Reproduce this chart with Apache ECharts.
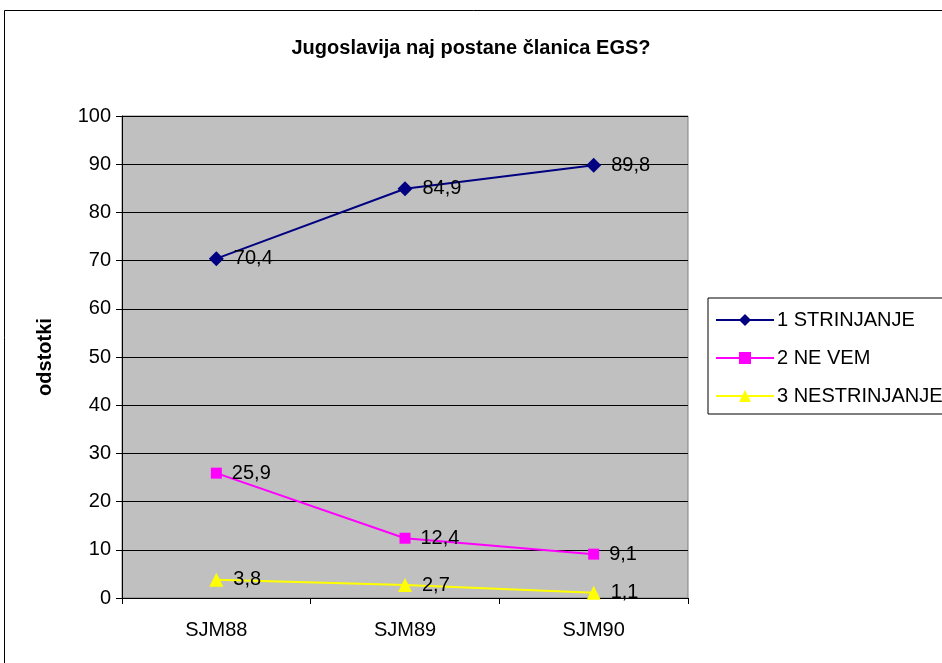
<!DOCTYPE html>
<html>
<head>
<meta charset="utf-8">
<script src="https://cdn.jsdelivr.net/npm/echarts@6/dist/echarts.min.js"></script>
<style>
  html, body { margin: 0; padding: 0; background: #fff; }
  #chart { width: 942px; height: 663px; }
</style>
</head>
<body>
<div id="chart"></div>
<script>
const categories = ['SJM88', 'SJM89', 'SJM90'];
const strinjanje = [70.4, 84.9, 89.8];
const neVem = [25.9, 12.4, 9.1];
const nestrinjanje = [3.8, 2.7, 1.1];
const seriesNames = ['1 STRINJANJE', '2 NE VEM', '3 NESTRINJANJE'];

const font = 'Liberation Sans, Arial, sans-serif';
const fs = 20;

// vrednosti z vejico kot v izvirniku
const fmt = p => String(p.value).replace('.', ',');

function makeSeries(name, data, color, symbol, size) {
  return {
    name: name,
    type: 'line',
    data: data,
    symbol: symbol,
    symbolSize: size,
    lineStyle: { color: color, width: 2 },
    itemStyle: { color: color },
    label: {
      show: true,
      position: 'right',
      distance: 10,
      color: '#000',
      fontFamily: font,
      fontSize: fs,
      formatter: fmt
    },
    emphasis: { disabled: true }
  };
}

const chart = echarts.init(document.getElementById('chart'));
chart.setOption({
  animation: false,
  backgroundColor: '#fff',
  textStyle: { fontFamily: font },
  title: {
    text: 'Jugoslavija naj postane članica EGS?',
    left: 'center',
    top: 33,
    textStyle: { fontFamily: font, fontSize: fs, fontWeight: 'bold', color: '#000' }
  },
  graphic: [{
    type: 'rect',
    shape: { x: 4.5, y: 10.5, width: 945, height: 670 },
    style: { fill: 'none', stroke: '#000', lineWidth: 1 },
    silent: true
  }],
  legend: {
    orient: 'vertical',
    left: 708,
    top: 298,
    padding: [12, 10, 8, 7],
    itemGap: 18,
    itemWidth: 58,
    itemHeight: 15,
    borderColor: '#000',
    borderWidth: 1,
    backgroundColor: '#fff',
    textStyle: { fontFamily: font, fontSize: fs, color: '#000', padding: [0, 0, 0, -2] },
    data: seriesNames
  },
  grid: {
    left: 122,
    top: 116,
    width: 566,
    height: 482,
    show: true,
    backgroundColor: '#c0c0c0',
    borderColor: '#808080',
    borderWidth: 1
  },
  xAxis: {
    type: 'category',
    data: categories,
    boundaryGap: true,
    axisLine: { lineStyle: { color: '#000', width: 1 } },
    axisTick: { show: true, length: 6, lineStyle: { color: '#000' } },
    axisLabel: { color: '#000', fontSize: fs, fontFamily: font, margin: 22 }
  },
  yAxis: {
    type: 'value',
    min: 0,
    max: 100,
    interval: 10,
    name: 'odstotki',
    nameLocation: 'middle',
    nameGap: 67,
    nameTextStyle: { fontFamily: font, fontSize: fs, fontWeight: 'bold', color: '#000' },
    axisLine: { show: true, lineStyle: { color: '#000', width: 1 } },
    axisTick: { show: true, length: 6, lineStyle: { color: '#000' } },
    axisLabel: { color: '#000', fontSize: fs, fontFamily: font, margin: 11 },
    splitLine: { show: true, lineStyle: { color: '#000', width: 1 } }
  },
  series: [
    makeSeries(seriesNames[0], strinjanje, '#000080', 'diamond', 15),
    makeSeries(seriesNames[1], neVem, '#ff00ff', 'rect', 11),
    makeSeries(seriesNames[2], nestrinjanje, '#ffff00', 'triangle', 14)
  ]
});
</script>
</body>
</html>
